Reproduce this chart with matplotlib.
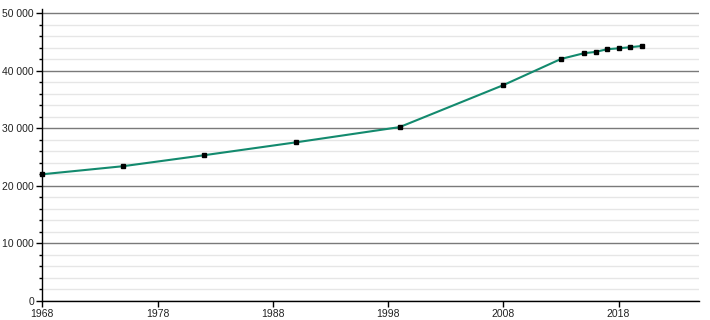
import matplotlib
matplotlib.use("Agg")
import matplotlib.pyplot as plt
from matplotlib.ticker import MultipleLocator, FuncFormatter

# population par année
annees = [1968, 1975, 1982, 1990, 1999, 2008, 2013, 2015, 2016, 2017, 2018, 2019, 2020]
population = [22000, 23400, 25300, 27550, 30200, 37500, 42050, 43050, 43270, 43740, 43900, 44090, 44300]
ticks_annees = [1968, 1978, 1988, 1998, 2008, 2018]

plt.rcParams['font.family'] = ['Liberation Sans', 'DejaVu Sans']

fig = plt.figure(figsize=(7.1, 3.2), dpi=100)
ax = fig.add_axes([42.3 / 710, 19.2 / 320, (699.3 - 42.3) / 710, (310.8 - 19.2) / 320])

ax.set_xlim(1968, 2025)
ax.set_ylim(0, 50700)

# grille : majeure tous les 10 000, mineure tous les 2 000
ax.yaxis.set_major_locator(MultipleLocator(10000))
ax.yaxis.set_minor_locator(MultipleLocator(2000))
ax.grid(True, which='major', axis='y', color='#7a7a7a', linewidth=1)
ax.grid(True, which='minor', axis='y', color='#e6e6e6', linewidth=1)
ax.set_axisbelow(True)

ax.plot(annees, population, color='#138a6e', linewidth=1.5, zorder=3)
ax.plot(annees, population, linestyle='none', marker='s', markersize=3.5,
        color='black', zorder=4, clip_on=False)

ax.set_xticks(ticks_annees)
ax.yaxis.set_major_formatter(FuncFormatter(lambda v, p: f"{int(v):,}".replace(",", " ")))

for s in ['top', 'right']:
    ax.spines[s].set_visible(False)
for s in ['left', 'bottom']:
    ax.spines[s].set_color('black')
    ax.spines[s].set_linewidth(1)

ax.tick_params(axis='both', which='major', labelsize=7.5, length=4, width=1,
               color='black', labelcolor='#222222', pad=2)
ax.tick_params(axis='y', which='minor', length=2.5, width=1, color='black')
ax.tick_params(axis='x', which='minor', bottom=False)

fig.savefig("out.png", dpi=100)
